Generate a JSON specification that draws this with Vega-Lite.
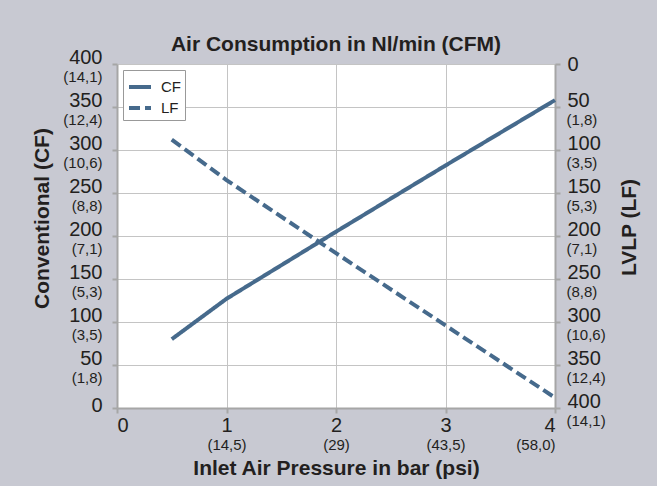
{
  "$schema": "https://vega.github.io/schema/vega-lite/v6.json",
  "width": 438,
  "height": 344,
  "autosize": "none",
  "padding": {"left": 117, "top": 64, "right": 102, "bottom": 78},
  "background": "#c8c9d2",
  "title": {"text": "Air Consumption in Nl/min (CFM)", "fontSize": 21, "font": "Liberation Sans", "fontWeight": "bold", "color": "#231f20", "offset": -8, "anchor": "middle", "frame": "group"},
  "config": {
    "view": {"fill": "white", "stroke": null},
    "axis": {
      "labelFont": "Liberation Sans", "labelColor": "#231f20",
      "titleFont": "Liberation Sans", "titleFontWeight": "bold", "titleFontSize": 21, "titleColor": "#231f20",
      "domainColor": "#a6a6a6", "domainWidth": 2, "tickColor": "#a6a6a6", "tickWidth": 2, "tickSize": 5,
      "gridColor": "#c4c4c4", "gridWidth": 1
    },
    "legend": {
      "orient": "top-left", "offset": 6, "strokeColor": "#999999", "fillColor": "white", "padding": 4,
      "labelFontSize": 15, "labelFont": "Liberation Sans", "labelColor": "#231f20",
      "symbolType": "stroke", "symbolSize": 484, "symbolStrokeWidth": 4, "symbolStrokeColor": "#466a8c",
      "rowPadding": 0, "labelOffset": 8, "cornerRadius": 0
    }
  },
  "data": {"values": [
    {"x": 0.5, "y": 80, "series": "CF"},
    {"x": 1, "y": 127, "series": "CF"},
    {"x": 2, "y": 205, "series": "CF"},
    {"x": 3, "y": 282, "series": "CF"},
    {"x": 4, "y": 358, "series": "CF"},
    {"x": 0.5, "y": 88, "series": "LF"},
    {"x": 1, "y": 135, "series": "LF"},
    {"x": 2, "y": 220, "series": "LF"},
    {"x": 3, "y": 304, "series": "LF"},
    {"x": 4, "y": 388, "series": "LF"}
  ]},
  "layer": [
    {
      "transform": [{"filter": "datum.series === 'CF'"}],
      "mark": {"type": "line", "color": "#466a8c", "strokeWidth": 4},
      "encoding": {
        "x": {"field": "x", "type": "quantitative", "scale": {"domain": [0, 4]},
          "axis": {"orient": "bottom", "values": [0, 1, 2, 3, 4], "grid": true, "labelFontSize": 20, "labelPadding": 2, "format": "d", "title": "Inlet Air Pressure in bar (psi)", "titlePadding": 22}},
        "y": {"field": "y", "type": "quantitative", "scale": {"domain": [0, 400]},
          "axis": {"orient": "left", "values": [0, 50, 100, 150, 200, 250, 300, 350, 400], "grid": true, "labelFontSize": 20, "labelPadding": 10,
            "labelOffset": {"condition": {"test": "datum.value === 0", "value": -3}, "value": -7},
            "title": "Conventional (CF)", "titlePadding": 16, "titleY": 154}},
        "strokeDash": {"field": "series", "type": "nominal", "scale": {"domain": ["CF", "LF"], "range": [[1, 0], [11, 5]]}, "legend": {"title": null}}
      }
    },
    {
      "transform": [{"filter": "datum.series === 'LF'"}],
      "mark": {"type": "line", "color": "#466a8c", "strokeWidth": 4},
      "encoding": {
        "x": {"field": "x", "type": "quantitative", "scale": {"domain": [0, 4]}, "axis": null},
        "y": {"field": "y", "type": "quantitative", "scale": {"domain": [0, 400], "reverse": true},
          "axis": {"orient": "right", "values": [0, 50, 100, 150, 200, 250, 300, 350, 400], "grid": false, "labelFontSize": 20, "labelPadding": 7,
            "labelOffset": {"condition": {"test": "datum.value === 0", "value": 0}, "value": -7},
            "title": "LVLP (LF)", "titleAngle": 270, "titleBaseline": "top", "titlePadding": 18, "titleY": 163}},
        "strokeDash": {"field": "series", "type": "nominal", "scale": {"domain": ["CF", "LF"], "range": [[1, 0], [11, 5]]}, "legend": {"title": null}}
      }
    },
    {
      "transform": [{"filter": "datum.series === 'CF'"}],
      "mark": {"type": "line", "opacity": 0},
      "encoding": {
        "x": {"field": "x", "type": "quantitative", "scale": {"domain": [0, 4]},
          "axis": {"orient": "bottom", "values": [0, 1, 2, 3, 4], "grid": false, "domain": false, "ticks": false, "labelFontSize": 15, "labelPadding": 29, "title": null,
            "labelExpr": "['', '(14,5)', '(29)', '(43,5)', '(58,0)'][datum.value]"}},
        "y": {"field": "y", "type": "quantitative", "scale": {"domain": [0, 400]},
          "axis": {"orient": "left", "values": [0, 50, 100, 150, 200, 250, 300, 350, 400], "grid": false, "domain": false, "ticks": false, "labelFontSize": 15, "labelPadding": 15, "labelOffset": 12, "title": null,
            "labelExpr": "['', '(1,8)', '(3,5)', '(5,3)', '(7,1)', '(8,8)', '(10,6)', '(12,4)', '(14,1)'][datum.value / 50]"}}
      }
    },
    {
      "transform": [{"filter": "datum.series === 'LF'"}],
      "mark": {"type": "line", "opacity": 0},
      "encoding": {
        "x": {"field": "x", "type": "quantitative", "scale": {"domain": [0, 4]}, "axis": null},
        "y": {"field": "y", "type": "quantitative", "scale": {"domain": [0, 400], "reverse": true},
          "axis": {"orient": "right", "values": [0, 50, 100, 150, 200, 250, 300, 350, 400], "grid": false, "domain": false, "ticks": false, "labelFontSize": 15, "labelPadding": 11, "labelOffset": 12, "title": null,
            "labelExpr": "['', '(1,8)', '(3,5)', '(5,3)', '(7,1)', '(8,8)', '(10,6)', '(12,4)', '(14,1)'][datum.value / 50]"}}
      }
    }
  ],
  "resolve": {"scale": {"x": "independent", "y": "independent"}}
}
